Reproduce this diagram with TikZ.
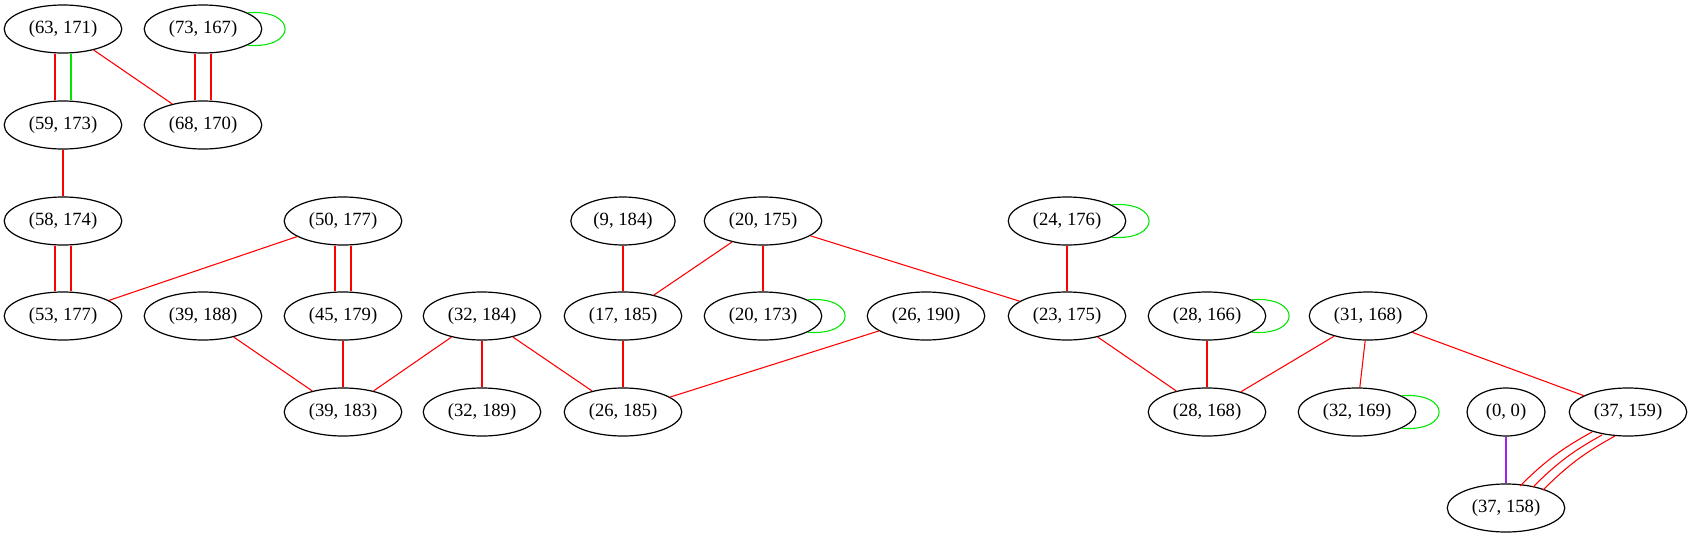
\documentclass[tikz,border=0pt]{standalone}
\usepackage{fontspec}
\setmainfont{Liberation Serif}
\usepackage{tikz}
\usetikzlibrary{shapes.geometric, calc}
\definecolor{edgered}{RGB}{255, 0, 0}
\definecolor{edgegreen}{RGB}{0, 230, 0}
\definecolor{edgepurple}{RGB}{160, 32, 240}

\begin{document}
\begin{tikzpicture}[
    x=0.75pt, y=-0.75pt,
    pairnode/.style={ellipse, draw=black, line width=0.9pt, inner xsep=5.5pt, inner ysep=3pt,
                     minimum width=54pt, minimum height=36pt, font=\fontsize{14}{16}\selectfont},
    redge/.style={draw=edgered, line width=0.8pt},
    gedge/.style={draw=edgegreen, line width=0.8pt},
    pedge/.style={draw=edgepurple, line width=0.8pt}
]
    \useasboundingbox (0,0) rectangle (1692,539);

    % row 1
    \node[pairnode] (n63x171) at (63, 29) {(63, 171)};
    \node[pairnode] (n73x167) at (203, 29) {(73, 167)};
    % row 2
    \node[pairnode] (n59x173) at (63, 125) {(59, 173)};
    \node[pairnode] (n68x170) at (203, 125) {(68, 170)};
    % row 3
    \node[pairnode] (n58x174) at (63, 221) {(58, 174)};
    \node[pairnode] (n50x177) at (343, 221) {(50, 177)};
    \node[pairnode] (n9x184) at (623, 221) {(9, 184)};
    \node[pairnode] (n20x175) at (763, 221) {(20, 175)};
    \node[pairnode] (n24x176) at (1067, 221) {(24, 176)};
    % row 4
    \node[pairnode] (n53x177) at (63, 316) {(53, 177)};
    \node[pairnode] (n39x188) at (203, 316) {(39, 188)};
    \node[pairnode] (n45x179) at (343, 316) {(45, 179)};
    \node[pairnode] (n32x184) at (482, 316) {(32, 184)};
    \node[pairnode] (n17x185) at (623, 316) {(17, 185)};
    \node[pairnode] (n20x173) at (763, 316) {(20, 173)};
    \node[pairnode] (n26x190) at (926, 316) {(26, 190)};
    \node[pairnode] (n23x175) at (1067, 316) {(23, 175)};
    \node[pairnode] (n28x166) at (1207, 316) {(28, 166)};
    \node[pairnode] (n31x168) at (1368, 316) {(31, 168)};
    % row 5
    \node[pairnode] (n39x183) at (343, 412) {(39, 183)};
    \node[pairnode] (n32x189) at (482, 412) {(32, 189)};
    \node[pairnode] (n26x185) at (623, 412) {(26, 185)};
    \node[pairnode] (n28x168) at (1207, 412) {(28, 168)};
    \node[pairnode] (n32x169) at (1357, 412) {(32, 169)};
    \node[pairnode] (n0x0) at (1506, 412) {(0, 0)};
    \node[pairnode] (n37x159) at (1628, 412) {(37, 159)};
    % row 6
    \node[pairnode] (n37x158) at (1506, 508) {(37, 158)};

    % double edges
    \draw[redge] ([xshift=-6pt]n63x171.south) -- ([xshift=-6pt]n59x173.north);
    \draw[gedge] ([xshift=6pt]n63x171.south) -- ([xshift=6pt]n59x173.north);
    \draw[redge] ([xshift=-6pt]n73x167.south) -- ([xshift=-6pt]n68x170.north);
    \draw[redge] ([xshift=6pt]n73x167.south) -- ([xshift=6pt]n68x170.north);
    \draw[redge] ([xshift=-6pt]n58x174.south) -- ([xshift=-6pt]n53x177.north);
    \draw[redge] ([xshift=6pt]n58x174.south) -- ([xshift=6pt]n53x177.north);
    \draw[redge] ([xshift=-6pt]n50x177.south) -- ([xshift=-6pt]n45x179.north);
    \draw[redge] ([xshift=6pt]n50x177.south) -- ([xshift=6pt]n45x179.north);

    % single edges
    \draw[redge] (n63x171) -- (n68x170);
    \draw[redge] (n59x173) -- (n58x174);
    \draw[redge] (n50x177) -- (n53x177);
    \draw[redge] (n39x188) -- (n39x183);
    \draw[redge] (n45x179) -- (n39x183);
    \draw[redge] (n32x184) -- (n39x183);
    \draw[redge] (n32x184) -- (n32x189);
    \draw[redge] (n32x184) -- (n26x185);
    \draw[redge] (n9x184) -- (n17x185);
    \draw[redge] (n20x175) -- (n17x185);
    \draw[redge] (n20x175) -- (n20x173);
    \draw[redge] (n20x175) -- (n23x175);
    \draw[redge] (n17x185) -- (n26x185);
    \draw[redge] (n26x190) -- (n26x185);
    \draw[redge] (n24x176) -- (n23x175);
    \draw[redge] (n23x175) -- (n28x168);
    \draw[redge] (n28x166) -- (n28x168);
    \draw[redge] (n31x168) -- (n28x168);
    \draw[redge] (n31x168) -- (n32x169);
    \draw[redge] (n31x168) -- (n37x159);
    \draw[pedge] (n0x0) -- (n37x158);

    % triple edge
    \draw[redge] ([shift={(-36,20)}]n37x159.center) to[bend right=8] ([shift={(14,-22)}]n37x158.center);
    \draw[redge] ([shift={(-26,23)}]n37x159.center) to[bend right=8] ([shift={(27,-21)}]n37x158.center);
    \draw[redge] ([shift={(-13,24)}]n37x159.center) to[bend right=8] ([shift={(37,-18)}]n37x158.center);

    % self loops
    \foreach \n in {n73x167, n24x176, n28x166, n20x173, n32x169}
        \draw[gedge] (\n.20) .. controls +(50,-4) and +(50,4) .. (\n.-20);
\end{tikzpicture}
\end{document}
